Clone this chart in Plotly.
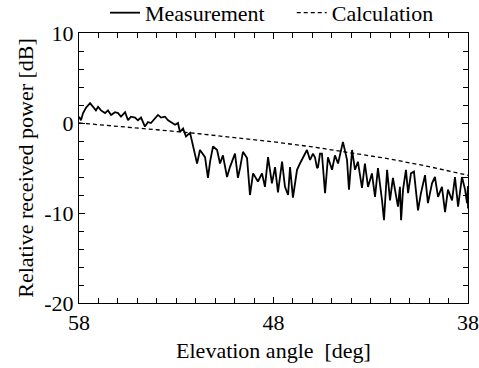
import plotly.graph_objects as go

meas_angle = [58.00, 57.90, 57.79, 57.64, 57.43, 57.28, 57.13, 57.02, 56.87, 56.66, 56.51, 56.35,
              56.15, 55.99, 55.84, 55.63, 55.48, 55.33, 55.12, 54.97, 54.81, 54.61, 54.45, 54.30,
              54.09, 53.94, 53.78, 53.58, 53.42, 53.27, 53.06, 52.91, 52.81, 52.65, 52.50, 52.29,
              52.14, 51.93, 51.78, 51.52, 51.37, 51.26, 51.11,
              50.90, 50.75, 50.60, 50.39, 50.24, 49.98, 49.83, 49.72, 49.57, 49.36, 49.21, 49.05,
              48.80, 48.59, 48.44, 48.28, 48.08, 47.92, 47.77, 47.56, 47.41, 47.25, 47.15, 47.00,
              46.79, 46.64, 46.48, 46.28, 46.12, 45.97, 45.87, 45.76, 45.71, 45.61, 45.51, 45.35,
              45.20, 44.99, 44.84, 44.68, 44.43, 44.22, 44.12, 43.96, 43.81, 43.66, 43.45, 43.30,
              43.14, 42.94, 42.78, 42.63, 42.42, 42.32, 42.16, 42.01, 41.86, 41.65, 41.60, 41.50,
              41.44, 41.34, 41.19, 41.08, 40.93, 40.78, 40.57, 40.42, 40.21, 40.06, 39.85, 39.70,
              39.54, 39.34, 39.18, 39.03, 38.82, 38.67, 38.51, 38.31, 38.15, 38.05, 38.00, 38.00]
meas_db = [0.7, 0.3, 1.1, 1.7, 2.2, 1.8, 1.4, 1.8, 1.4, 1.1, 1.4, 0.9,
           1.2, 1.1, 0.7, 1.2, 0.3, 0.7, 0.6, 0.3, 0.6, -0.4, 0.1, 0.0,
           0.6, 0.9, 0.6, 0.7, 0.3, 0.1, -0.2, 0.0, -1.0, -0.6, -1.5, -1.1,
           -2.4, -4.5, -3.0, -3.8, -6.1, -4.3, -2.6,
           -3.0, -4.5, -3.6, -6.0, -4.9, -3.4, -6.1, -5.0, -3.2, -3.9, -8.0, -5.6,
           -6.5, -5.6, -7.1, -3.8, -6.7, -4.9, -7.7, -4.3, -7.1, -8.0, -4.9, -8.3,
           -5.2, -4.5, -3.8, -3.0, -4.1, -3.4, -3.8, -5.0, -4.9, -3.4, -3.4, -7.8,
           -3.8, -5.2, -3.6, -4.5, -2.1, -4.1, -7.4, -3.0, -5.2, -4.3, -7.2, -4.5,
           -7.1, -5.6, -8.2, -5.0, -8.6, -10.8, -5.2, -8.6, -6.1, -9.1, -9.3, -7.1,
           -10.8, -7.4, -5.2, -7.8, -5.6, -5.4, -9.7, -7.8, -5.8, -8.9, -6.7, -6.0,
           -8.2, -7.1, -9.9, -7.4, -8.6, -6.0, -9.3, -6.0, -7.4, -8.9, -7.0, -9.5]

# Calculation
calc_angle = [58, 56, 54, 52, 50, 48, 46, 44, 42, 40, 38]
calc_db = [0.0, -0.35, -0.75, -1.15, -1.6, -2.1, -2.65, -3.3, -4.0, -4.85, -5.8]

x_labels = [58, 48, 38]
y_labels = [10, 0, -10, -20]

FONT = "Times New Roman"

fig = go.Figure()
fig.add_trace(go.Scatter(x=meas_angle, y=meas_db, mode="lines",
                         name="Measurement\u00a0\u00a0\u00a0\u00a0",
                         line=dict(color="black", width=1.8)))
fig.add_trace(go.Scatter(x=calc_angle, y=calc_db, mode="lines", name="Calculation",
                         line=dict(color="black", width=1.3, dash="4px,3px")))

axis_common = dict(showline=True, linecolor="black", linewidth=1, mirror="ticks",
                   ticks="inside", tickcolor="black", ticklen=6, showgrid=False,
                   zeroline=False, automargin=False,
                   tickfont=dict(family=FONT, size=22, color="black"))

fig.update_layout(
    width=479, height=368,
    margin=dict(l=79, r=11, t=33, b=65, autoexpand=False),
    paper_bgcolor="white", plot_bgcolor="white",
    font=dict(family=FONT, size=22, color="black"),
    showlegend=True,
    legend=dict(orientation="h", xref="container", yref="container",
                x=105 / 479, xanchor="left", y=0.965, yanchor="middle",
                font=dict(family=FONT, size=22, color="black"),
                bgcolor="rgba(0,0,0,0)", itemwidth=30, tracegroupgap=0),
    xaxis=dict(range=[58, 38], tickvals=x_labels, ticktext=[str(v) for v in x_labels],
               minor=dict(dtick=1, tick0=38, ticks="inside", ticklen=5, tickcolor="black"),
               title=dict(text="Elevation angle\u00a0 [deg]", font=dict(family=FONT, size=22), standoff=8),
               **axis_common),
    yaxis=dict(range=[-20, 10], tickvals=y_labels, ticktext=[str(v) for v in y_labels],
               minor=dict(dtick=2, tick0=0, ticks="inside", ticklen=5, tickcolor="black"),
               title=dict(text="Relative received power [dB]", font=dict(family=FONT, size=22), standoff=4),
               **axis_common),
)

fig.write_html("out.html")
